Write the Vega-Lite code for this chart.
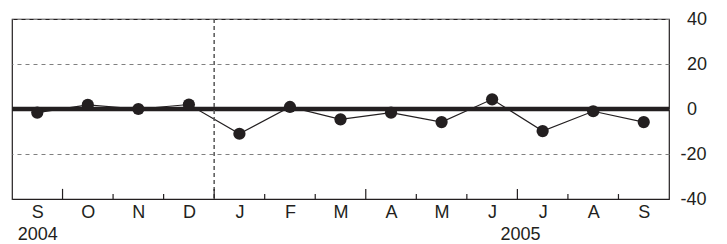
{
  "$schema": "https://vega.github.io/schema/vega-lite/v6.json",
  "width": 657,
  "height": 180,
  "autosize": {"type": "none"},
  "padding": {"left": 12, "top": 19, "right": 58, "bottom": 45},
  "background": "white",
  "config": {
    "view": {"stroke": "#231f20", "strokeWidth": 1.2},
    "font": "Liberation Sans",
    "axis": {"labelFont": "Liberation Sans", "labelFontSize": 18, "labelColor": "#231f20"}
  },
  "datasets": {
    "series": [
      {"m": 0.5, "month": "2004-09", "value": -1.6},
      {"m": 1.5, "month": "2004-10", "value": 1.8},
      {"m": 2.5, "month": "2004-11", "value": 0},
      {"m": 3.5, "month": "2004-12", "value": 2},
      {"m": 4.5, "month": "2005-01", "value": -11},
      {"m": 5.5, "month": "2005-02", "value": 0.9},
      {"m": 6.5, "month": "2005-03", "value": -4.6},
      {"m": 7.5, "month": "2005-04", "value": -1.6},
      {"m": 8.5, "month": "2005-05", "value": -5.8},
      {"m": 9.5, "month": "2005-06", "value": 4.3},
      {"m": 10.5, "month": "2005-07", "value": -9.8},
      {"m": 11.5, "month": "2005-08", "value": -1},
      {"m": 12.5, "month": "2005-09", "value": -5.8}
    ],
    "bounds": [
      {"b": 1, "kind": "quarter"},
      {"b": 2, "kind": "month"},
      {"b": 3, "kind": "month"},
      {"b": 4, "kind": "quarter"},
      {"b": 5, "kind": "month"},
      {"b": 6, "kind": "month"},
      {"b": 7, "kind": "quarter"},
      {"b": 8, "kind": "month"},
      {"b": 9, "kind": "month"},
      {"b": 10, "kind": "quarter"},
      {"b": 11, "kind": "month"},
      {"b": 12, "kind": "month"}
    ],
    "refs": [
      {"zero": 0, "yearStart": 4}
    ]
  },
  "layer": [
    {
      "data": {"name": "series"},
      "mark": {"type": "line", "color": "#231f20", "strokeWidth": 1.2},
      "encoding": {
        "x": {
          "field": "m", "type": "quantitative",
          "scale": {"domain": [0, 13], "nice": false, "zero": false},
          "axis": {
            "orient": "bottom",
            "title": null,
            "values": [0.5, 1.5, 2.5, 3.5, 4.5, 5.5, 6.5, 7.5, 8.5, 9.5, 10.5, 11.5, 12.5, 10.05],
            "labelExpr": "datum.value == 0.5 ? ['S', '2004'] : datum.value > 10 && datum.value < 10.1 ? [' ', '2005'] : ['S','O','N','D','J','F','M','A','M','J','J','A','S'][floor(datum.value)]",
            "labelLineHeight": 22,
            "labelPadding": 4.5,
            "labelOverlap": false,
            "labelFlush": false,
            "labelBound": false,
            "ticks": false,
            "grid": false,
            "domain": true,
            "domainColor": "#231f20",
            "domainWidth": 1.2
          }
        },
        "y": {
          "field": "value", "type": "quantitative",
          "scale": {"domain": [-40, 40], "nice": false},
          "axis": {
            "orient": "right",
            "title": null,
            "values": [-40, -20, 0, 20, 40],
            "labelExpr": "datum.value < 0 ? '-' + abs(datum.value) : '' + datum.value",
            "ticks": false,
            "domain": false,
            "grid": true,
            "gridColor": "#808080",
            "gridDash": [4, 4],
            "gridWidth": 1,
            "labelAlign": "left",
            "labelBaseline": "middle",
            "labelPadding": {"condition": {"test": "datum.value < 0", "value": 11}, "value": 17.5}
          }
        }
      }
    },
    {
      "data": {"name": "refs"},
      "mark": {"type": "rule", "color": "#231f20", "strokeWidth": 4.5},
      "encoding": {"y": {"field": "zero", "type": "quantitative"}}
    },
    {
      "data": {"name": "refs"},
      "mark": {"type": "rule", "color": "#555555", "strokeWidth": 1.5, "strokeDash": [4, 3]},
      "encoding": {"x": {"field": "yearStart", "type": "quantitative"}}
    },
    {
      "data": {"name": "bounds"},
      "transform": [{"filter": "datum.kind == 'quarter'"}],
      "mark": {"type": "rule", "color": "#231f20", "strokeWidth": 1.2},
      "encoding": {"x": {"field": "b", "type": "quantitative"}, "y": {"datum": -40}, "y2": {"datum": -35.5}}
    },
    {
      "data": {"name": "bounds"},
      "transform": [{"filter": "datum.kind == 'month'"}],
      "mark": {"type": "rule", "color": "#231f20", "strokeWidth": 1.2},
      "encoding": {"x": {"field": "b", "type": "quantitative"}, "y": {"datum": -40}, "y2": {"datum": -37.8}}
    },
    {
      "data": {"name": "series"},
      "mark": {"type": "point", "filled": true, "shape": "circle", "color": "#231f20", "opacity": 1, "size": 150},
      "encoding": {
        "x": {"field": "m", "type": "quantitative"},
        "y": {"field": "value", "type": "quantitative"}
      }
    }
  ]
}
